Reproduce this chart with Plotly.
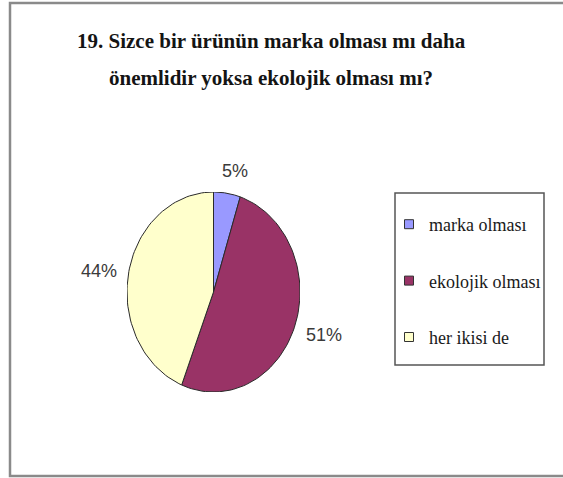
import numpy as np
import plotly.graph_objects as go

# Survey answers (percent of respondents)
categories = ["marka olması", "ekolojik olması", "her ikisi de"]
values = [5, 51, 44]
labels = ["5%", "51%", "44%"]
colors = ["#9999FF", "#993366", "#FFFFCC"]
title_lines = ["19. Sizce bir ürünün marka olması mı daha",
               "önemlidir yoksa ekolojik olması mı?"]

W, H = 563, 478
# pixel box of the pie (slightly taller than wide)
PX0, PX1, PY0, PY1 = 127, 300, 192, 392

SERIF = "Liberation Serif"

fig = go.Figure()

total = float(sum(values))
start = 0.0
label_specs = []
for cat, val, col, lab in zip(categories, values, colors, labels):
    frac0 = start / total
    frac1 = (start + val) / total
    # angles measured clockwise from 12 o'clock
    t = np.linspace(frac0, frac1, 80) * 2 * np.pi
    xs = np.concatenate([[0], np.sin(t), [0]])
    ys = np.concatenate([[0], np.cos(t), [0]])
    fig.add_trace(go.Scatter(
        x=xs, y=ys, mode="lines", fill="toself", fillcolor=col,
        line=dict(color="#2a2a2a", width=1), hoverinfo="text",
        text=f"{cat}: {lab}", showlegend=False))
    mid = (frac0 + frac1) / 2 * 2 * np.pi
    label_specs.append((lab, mid))
    start += val

# legend entries
for i, (cat, col) in enumerate(zip(categories, colors)):
    fig.add_trace(go.Scatter(
        x=[None], y=[None], mode="markers", name=cat, legendgroup=str(i),
        marker=dict(symbol="square", size=9, color=col,
                    line=dict(color="#333333", width=1))))

annotations = []
for lab, mid in label_specs:
    s, c = np.sin(mid), np.cos(mid)
    xanchor = "left" if s > 0.3 else ("right" if s < -0.3 else "center")
    yanchor = "bottom" if c > 0.5 else ("top" if c < -0.5 else "middle")
    annotations.append(dict(
        x=s, y=c, xref="x", yref="y", text=lab, showarrow=False,
        xanchor=xanchor, yanchor=yanchor,
        xshift=10 * s + (6 if xanchor == "center" else 0),
        yshift=10 * c - (6 if yanchor == "middle" and c < 0 else 0),
        font=dict(family="Liberation Sans", size=18, color="#3a3a3a")))

for line, yc in zip(title_lines, [41, 78]):
    annotations.append(dict(
        x=271 / W, y=1 - yc / H, xref="paper", yref="paper", text=line,
        showarrow=False, xanchor="center", yanchor="middle",
        font=dict(family=SERIF, size=21, color="#141414", weight="bold")))

shapes = [
    # outer frame
    dict(type="rect", xref="paper", yref="paper", x0=10 / W, x1=1.05,
         y0=1 - 476 / H, y1=1 - 3 / H, line=dict(color="#8a8a8a", width=2.5)),
    # legend frame
    dict(type="rect", xref="paper", yref="paper", x0=395 / W, x1=544 / W,
         y0=1 - 365 / H, y1=1 - 193 / H, line=dict(color="#555555", width=1.5)),
]

fig.update_layout(
    width=W, height=H, margin=dict(l=0, r=0, t=0, b=0),
    paper_bgcolor="white", plot_bgcolor="white",
    xaxis=dict(domain=[PX0 / W, PX1 / W], range=[-1, 1], visible=False, fixedrange=True),
    yaxis=dict(domain=[1 - PY1 / H, 1 - PY0 / H], range=[-1, 1], visible=False, fixedrange=True),
    annotations=annotations, shapes=shapes,
    legend=dict(x=389 / W, xanchor="left", y=1 - 281 / H, yanchor="middle",
                bgcolor="rgba(0,0,0,0)", borderwidth=0, tracegroupgap=30,
                itemwidth=30,
                font=dict(family=SERIF, size=18, color="#1a1a1a")),
)

fig.write_html("out.html")
